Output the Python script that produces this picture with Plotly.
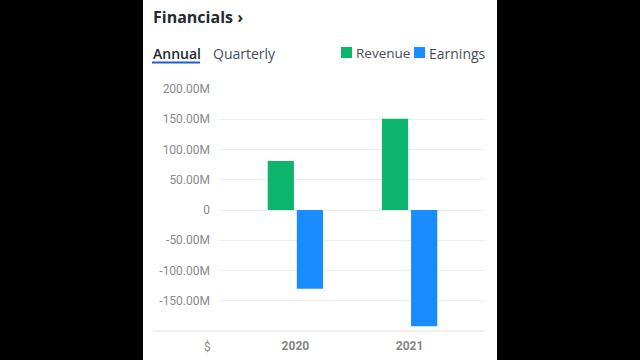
import plotly.graph_objects as go

# ---- data ----
years = ["2020", "2021"]
revenue = [81e6, 151e6]
earnings = [-130e6, -192e6]
series_names = ["Revenue", "Earnings"]
ytick_vals = [200e6, 150e6, 100e6, 50e6, 0, -50e6, -100e6, -150e6]
ytick_text = ["200.00M", "150.00M", "100.00M", "50.00M", "0", "-50.00M", "-100.00M", "-150.00M"]

# ---- layout geometry ----
W, H = 640, 360
L, R, T, B = 220, 155, 89, 29
PW, PH = W - L - R, H - T - B


def px(x):
    return (x - L) / PW


def py(y):
    return (H - B - y) / PH


GREEN = "#0db56c"
BLUE = "#1a8cff"
FONT = "Open Sans"

fig = go.Figure()
fig.add_trace(go.Bar(x=years, y=revenue, name=series_names[0], marker=dict(color=GREEN, line=dict(width=0))))
fig.add_trace(go.Bar(x=years, y=earnings, name=series_names[1], marker=dict(color=BLUE, line=dict(width=0))))

shapes = [
    # white card
    dict(type="rect", xref="paper", yref="paper", x0=px(143), x1=px(497), y0=py(360), y1=py(0),
         fillcolor="white", line=dict(width=0), layer="below"),
    # bottom axis line
    dict(type="line", xref="paper", yref="paper", x0=px(153), x1=px(485), y0=py(331), y1=py(331),
         line=dict(color="#e2e2e2", width=1)),
    # Annual underline
    dict(type="line", xref="paper", yref="paper", x0=px(152), x1=px(200), y0=py(62.5), y1=py(62.5),
         line=dict(color="#1d5fd6", width=2)),
    # legend squares
    dict(type="rect", xref="paper", yref="paper", x0=px(341), x1=px(352), y0=py(58), y1=py(47),
         fillcolor=GREEN, line=dict(width=0)),
    dict(type="rect", xref="paper", yref="paper", x0=px(414), x1=px(425), y0=py(58), y1=py(47),
         fillcolor=BLUE, line=dict(width=0)),
]

annotations = [
    dict(text="Financials <b>›</b>", x=px(151), y=py(17), xref="paper", yref="paper", xanchor="left",
         yanchor="middle", showarrow=False, font=dict(family=FONT, size=16, color="#232a31", weight="bold")),
    dict(text="Annual", x=px(151), y=py(53), xref="paper", yref="paper", xanchor="left", yanchor="middle",
         showarrow=False, font=dict(family=FONT, size=14, color="#232a31", weight=600)),
    dict(text="Quarterly", x=px(211), y=py(53), xref="paper", yref="paper", xanchor="left", yanchor="middle",
         showarrow=False, font=dict(family=FONT, size=14, color="#464e56")),
    dict(text=series_names[0], x=px(354), y=py(53), xref="paper", yref="paper", xanchor="left", yanchor="middle",
         showarrow=False, font=dict(family=FONT, size=13.5, color="#464e56")),
    dict(text=series_names[1], x=px(427), y=py(53), xref="paper", yref="paper", xanchor="left", yanchor="middle",
         showarrow=False, font=dict(family=FONT, size=14, color="#464e56")),
    dict(text="$", x=px(207), y=py(347), xref="paper", yref="paper", xanchor="center", yanchor="middle",
         showarrow=False, font=dict(family="Roboto", size=12, color="#8a8a8a")),
]

fig.update_layout(
    width=W, height=H,
    autosize=False,
    margin=dict(l=L, r=R, t=T, b=B, pad=0, autoexpand=False),
    paper_bgcolor="black",
    plot_bgcolor="white",
    barmode="group",
    bargap=0.49,
    bargroupgap=0.1,
    showlegend=False,
    shapes=shapes,
    annotations=annotations,
    hovermode=False,
    xaxis=dict(type="category", range=[-0.66, 1.66], showgrid=False, showline=False, zeroline=False,
               ticks="", ticklabelstandoff=6, automargin=False,
               tickfont=dict(family="Roboto", size=12, color="#858585", weight="bold")),
    yaxis=dict(range=[-200e6, 200e6], tickvals=ytick_vals, ticktext=ytick_text, showgrid=True,
               gridcolor="#ececec", gridwidth=1, zeroline=False, showline=False, ticks="",
               ticklabelstandoff=9, automargin=False,
               tickfont=dict(family="Roboto", size=12, color="#8a8a8a")),
)

fig.write_html("out.html", config={"displayModeBar": False},
               post_script="document.body.style.margin='0px';document.body.style.background='black';")
